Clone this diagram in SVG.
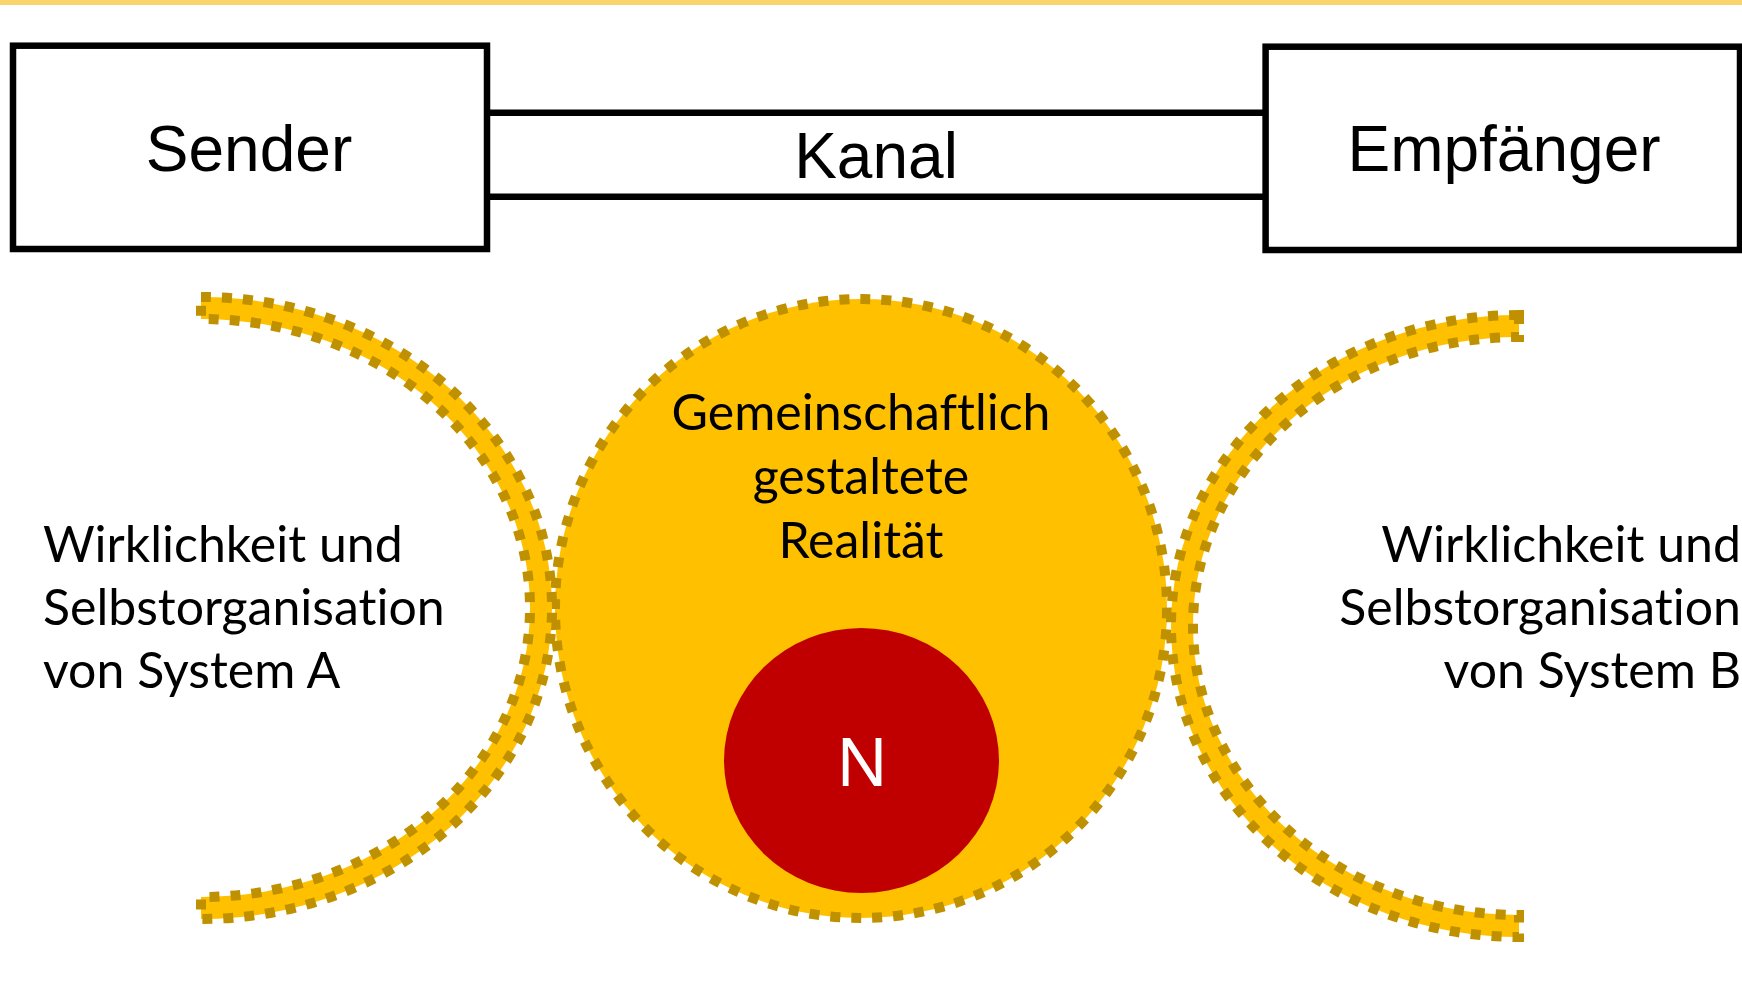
<svg xmlns="http://www.w3.org/2000/svg" width="1742" height="995" viewBox="0 0 1742 995">
<style>
.box{fill:#ffffff;stroke:#000000;stroke-width:6.5}
.chan{stroke:#000000;stroke-width:6.5;fill:none}
.arial{font-family:"Liberation Sans",Arial,sans-serif;font-size:64px;fill:#000000}
.band{fill:#FFC000;stroke:#BF9000;stroke-width:10;stroke-dasharray:10 11}
.lbl{font-family:Lato,"Open Sans",sans-serif;font-size:50px;fill:#000000;font-variant-ligatures:none}
</style>
<rect x="0" y="0" width="1742" height="995" fill="#ffffff"/>
<rect x="0" y="0" width="1742" height="5" fill="#F9D56B"/>
<g id="connectors">
<line class="chan" x1="487" y1="112.7" x2="1266" y2="112.7"/>
<line class="chan" x1="487" y1="196.7" x2="1266" y2="196.7"/>
<text class="arial" x="876" y="178" text-anchor="middle">Kanal</text>
</g>
<g id="node-sender">
<rect class="box" x="13" y="45.7" width="474" height="203.3"/>
<text class="arial" x="249" y="171" text-anchor="middle">Sender</text>
</g>
<g id="node-empfaenger">
<rect class="box" x="1265.6" y="46.7" width="474.4" height="203.3"/>
<text class="arial" x="1504" y="171" text-anchor="middle">Empfänger</text>
</g>
<g id="node-realitaet">
<ellipse class="band" cx="861" cy="608.5" rx="306" ry="309.5"/>
<text class="lbl" x="861" y="430" text-anchor="middle">Gemeinschaftlich</text>
<text class="lbl" x="861" y="494" text-anchor="middle">gestaltete</text>
<text class="lbl" x="861" y="558" text-anchor="middle">Realität</text>
</g>
<g id="node-system-a">
<path class="band" d="M201,297 A351,311 0 0 1 552,608 A351,311 0 0 1 201,919 L201,897 A329,289 0 0 0 530,608 A329,289 0 0 0 201,319 Z"/>
<text class="lbl" x="43" y="562">Wirklichkeit und</text>
<text class="lbl" x="43" y="625">Selbstorganisation</text>
<text class="lbl" x="43" y="688">von System A</text>
</g>
<g id="node-system-b">
<path class="band" d="M1519,315 A348,311 0 0 0 1171,626 A348,311 0 0 0 1519,937 L1519,915 A326,289 0 0 1 1193,626 A326,289 0 0 1 1519,337 Z"/>
<text class="lbl" x="1741" y="562" text-anchor="end">Wirklichkeit und</text>
<text class="lbl" x="1741" y="625" text-anchor="end">Selbstorganisation</text>
<text class="lbl" x="1741" y="688" text-anchor="end">von System B</text>
</g>
<g id="node-n">
<ellipse cx="861.5" cy="760.5" rx="137.5" ry="132.5" fill="#C00000"/>
<text x="862" y="786" text-anchor="middle" font-family="'Noto Sans',sans-serif" font-size="68" fill="#ffffff">N</text>
</g>
</svg>
